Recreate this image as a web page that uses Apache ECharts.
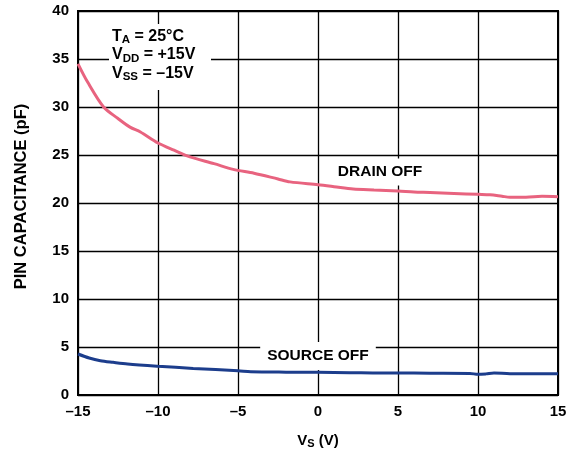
<!DOCTYPE html>
<html>
<head>
<meta charset="utf-8">
<script src="https://cdn.jsdelivr.net/npm/echarts@6/dist/echarts.min.js"></script>
<style>html,body{margin:0;padding:0;background:#fff;overflow:hidden;}#c{width:576px;height:454px;}</style>
</head>
<body>
<div id="c"></div>
<script>
// Data
var drainV = [-15, -14.4, -13.4, -12.5, -11.75, -11.1, -10, -9, -8, -6.5, -5.3, -4, -2.5, -1.75, 0, 1, 2.2, 3.5, 5, 6, 7, 8.5, 10, 10.75, 11.5, 12, 13, 14, 15];
var drainC = [34.5, 32.6, 30.0, 28.8, 27.9, 27.4, 26.25, 25.5, 24.8, 24.1, 23.5, 23.1, 22.5, 22.2, 21.9, 21.7, 21.45, 21.35, 21.25, 21.15, 21.1, 21.0, 20.9, 20.85, 20.7, 20.6, 20.6, 20.7, 20.65];
var sourceV = [-15, -14.3, -13.6, -12.8, -11.9, -10, -7.8, -5, -4.2, -2, 0, 2, 3.9, 5, 7, 9.5, 10, 10.5, 11, 12, 13.5, 15];
var sourceC = [4.27, 3.85, 3.57, 3.4, 3.23, 3.0, 2.77, 2.53, 2.43, 2.38, 2.36, 2.33, 2.29, 2.29, 2.27, 2.25, 2.15, 2.2, 2.29, 2.22, 2.22, 2.22];
var xTicks = {min: -15, max: 15, interval: 5};
var yTicks = {min: 0, max: 40, interval: 5};
var seriesNames = ['DRAIN OFF', 'SOURCE OFF'];

function pairs(xs, ys) { return xs.map(function (x, i) { return [x, ys[i]]; }); }
function dash(v) { return String(v).replace('-', '\u2013'); }

var FONT = '"Liberation Sans", Arial, sans-serif';
var chart = echarts.init(document.getElementById('c'), null, {renderer: 'canvas', width: 576, height: 454});
chart.setOption({
  animation: false,
  backgroundColor: '#fff',
  grid: {left: 78, width: 480, top: 11, height: 384, containLabel: false, outerBoundsMode: 'none',
         show: true, borderColor: '#000', borderWidth: 2, backgroundColor: 'transparent'},
  xAxis: {
    type: 'value', min: xTicks.min, max: xTicks.max, interval: xTicks.interval,
    axisLine: {show: true, onZero: false, lineStyle: {color: '#000', width: 2}},
    axisTick: {show: false},
    splitLine: {show: true, lineStyle: {color: '#000', width: 1.3}},
    axisLabel: {formatter: dash, color: '#000', fontFamily: FONT, fontWeight: 'bold', fontSize: 15, margin: 9},
    name: '{b|V}{s|S}{b| (V)}', nameLocation: 'middle', nameGap: 37,
    nameTextStyle: {rich: {
      b: {fontFamily: FONT, fontWeight: 'bold', fontSize: 15, color: '#000'},
      s: {fontFamily: FONT, fontWeight: 'bold', fontSize: 11, color: '#000', padding: [6, 0, 0, 0]}
    }}
  },
  yAxis: {
    type: 'value', min: yTicks.min, max: yTicks.max, interval: yTicks.interval,
    axisLine: {show: true, onZero: false, lineStyle: {color: '#000', width: 2}},
    axisTick: {show: false},
    splitLine: {show: true, lineStyle: {color: '#000', width: 1.3}},
    axisLabel: {color: '#000', fontFamily: FONT, fontWeight: 'bold', fontSize: 15, margin: 9},
    name: 'PIN CAPACITANCE (pF)', nameLocation: 'middle', nameGap: 48,
    nameTextStyle: {fontFamily: FONT, fontWeight: 'bold', fontSize: 16.5, color: '#000', padding: [0, 0, 0, 13]}
  },
  series: [
    {name: seriesNames[0], type: 'line', data: pairs(drainV, drainC), showSymbol: false, smooth: 0.3,
     lineStyle: {color: '#e8637f', width: 3}, z: 20},
    {name: seriesNames[1], type: 'line', data: pairs(sourceV, sourceC), showSymbol: false, smooth: 0.3,
     lineStyle: {color: '#1c3d8c', width: 3}, z: 20}
  ],
  graphic: [
    {type: 'rect', shape: {x: 109, y: 24, width: 102, height: 66}, style: {fill: '#fff'}, z: 10},
    {type: 'text', left: 112, top: 27, z: 11, style: {
      text: '{b|T}{s|A}{b| = 25°C}\n{b|V}{s|DD}{b| = +15V}\n{b|V}{s|SS}{b| = \u201315V}',
      rich: {
        b: {fontFamily: FONT, fontWeight: 'bold', fontSize: 16, fill: '#000', lineHeight: 18.5},
        s: {fontFamily: FONT, fontWeight: 'bold', fontSize: 11.5, fill: '#000', lineHeight: 18.5, padding: [7, 0, 0, 0]}
      }
    }},
    {type: 'text', x: 380, y: 172, z: 11, style: {
      text: seriesNames[0], fontFamily: FONT, fontWeight: 'bold', fontSize: 15.5, fill: '#000',
      align: 'center', verticalAlign: 'middle', backgroundColor: '#fff', padding: [6, 6, 5, 6]
    }},
    {type: 'text', x: 318, y: 356, z: 11, style: {
      text: seriesNames[1], fontFamily: FONT, fontWeight: 'bold', fontSize: 15.5, fill: '#000',
      align: 'center', verticalAlign: 'middle', backgroundColor: '#fff', padding: [10, 7, 2, 7]
    }}
  ]
});
</script>
</body>
</html>
